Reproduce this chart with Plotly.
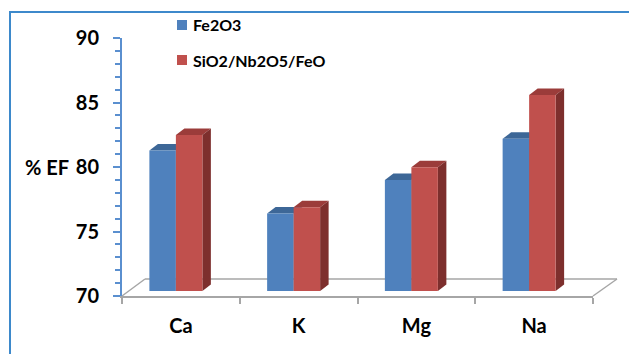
import plotly.graph_objects as go

# Efficiency (% EF) per element for the two sorbents
categories = ["Ca", "K", "Mg", "Na"]
fe2o3 = [80.9, 76.0, 78.6, 81.8]
composite = [82.1, 76.5, 79.6, 85.2]
series_names = ["Fe2O3", "SiO2/Nb2O5/FeO"]
y_ticks = [70, 75, 80, 85, 90]

FRONT = ["#4F81BD", "#C0504D"]
TOP = ["#3D6797", "#9B3C3A"]
SIDE = ["#36608F", "#7D2F2D"]

W_PX, H_PX = 629, 354
L, R, T, B = 122, 593, 38, 296
PW, PH = R - L, B - T
Y0, Y1 = 70, 90
UNIT_PX = PH / (Y1 - Y0)          # pixels per % unit
CAT_PX = PW / len(categories)     # pixels per category

# Depth of the pseudo-3D bars, expressed in axis units
DX = 8.5 / CAT_PX
DY = 6.5 / UNIT_PX
# bars sit slightly back from the front floor edge
SHIFT_Y = 5 / UNIT_PX
SHIFT_X = 5 / CAT_PX
BW = 0.225


def px_x(p):
    return (p - L) / PW


def px_y(p):
    return (B - p) / PH


fig = go.Figure()

# invisible carrier so the front (visible) axes get drawn
fig.add_trace(go.Scatter(x=categories, y=fe2o3, mode="markers",
                         marker=dict(opacity=0), hoverinfo="skip", showlegend=False))

idx = list(range(len(categories)))
shapes = []
for s, (vals, name) in enumerate(zip([fe2o3, composite], series_names)):
    off = -BW if s == 0 else 0.0
    fig.add_trace(go.Bar(
        x=idx, y=[v - Y0 for v in vals], base=Y0, name=name,
        width=BW, offset=off, marker=dict(color=FRONT[s], line=dict(width=0)),
        xaxis="x2", yaxis="y2", showlegend=False,
        customdata=vals, hovertemplate="%{customdata}<extra>" + name + "</extra>",
    ))
    for i, v in enumerate(vals):
        x0 = i + off
        x1 = x0 + BW
        # top face
        shapes.append(dict(
            type="path", xref="x2", yref="y2", layer="below",
            path=f"M{x0},{v} L{x1},{v} L{x1 + DX},{v + DY} L{x0 + DX},{v + DY} Z",
            fillcolor=TOP[s], line=dict(width=0),
        ))
        # right side face
        shapes.append(dict(
            type="path", xref="x2", yref="y2", layer="below",
            path=f"M{x1},{Y0} L{x1},{v} L{x1 + DX},{v + DY} L{x1 + DX},{Y0 + DY} Z",
            fillcolor=SIDE[s], line=dict(width=0),
        ))

# Floor of the 3D plot
floor_col = "#A6A6A6"
for (xa, ya, xb, yb) in [(L, B, 145, 279), (145, 279, 617, 279), (R, B, 617, 279)]:
    shapes.append(dict(type="line", xref="paper", yref="paper", layer="below",
                       x0=px_x(xa), y0=px_y(ya), x1=px_x(xb), y1=px_y(yb),
                       line=dict(color=floor_col, width=1.5)))

# Chart frame
frame_col = "#3D89CB"
shapes.append(dict(type="path", xref="paper", yref="paper",
                   path=f"M{px_x(10)},{px_y(360)} L{px_x(10)},{px_y(12)} L{px_x(640)},{px_y(12)}",
                   line=dict(color=frame_col, width=2)))

# Legend swatches and labels
annotations = []
for s, (name, yc) in enumerate(zip(series_names, [25, 60])):
    shapes.append(dict(type="rect", xref="paper", yref="paper",
                       x0=px_x(177), x1=px_x(187), y0=px_y(yc + 5), y1=px_y(yc - 5),
                       fillcolor=FRONT[s], line=dict(width=0)))
    annotations.append(dict(xref="paper", yref="paper", x=px_x(191), y=px_y(yc),
                            xanchor="left", yanchor="middle", showarrow=False,
                            text=name, font=dict(family="Lato", size=16, color="#000000", weight="bold")))

annotations.append(dict(xref="paper", yref="paper", x=px_x(47), y=px_y(167),
                        xanchor="center", yanchor="middle", showarrow=False,
                        text="% EF", font=dict(family="Lato", size=20, color="#000000", weight="bold")))

axis_blue = "#5A8FCF"
fig.update_layout(
    width=W_PX, height=H_PX,
    margin=dict(l=L, r=W_PX - R, t=T, b=H_PX - B),
    paper_bgcolor="white", plot_bgcolor="rgba(0,0,0,0)",
    bargap=0.55, bargroupgap=0,
    shapes=shapes, annotations=annotations,
    font=dict(family="Lato", color="#000000"),
    xaxis=dict(
        type="category", categoryorder="array", categoryarray=categories,
        tickmode="array", tickvals=categories, ticktext=categories,
        range=[-0.5, len(categories) - 0.5], tickson="boundaries",
        ticks="outside", ticklen=6, tickcolor=floor_col, tickwidth=1.5,
        showline=True, linecolor=floor_col, linewidth=1.5,
        showgrid=False, zeroline=False, fixedrange=True,
        ticklabelstandoff=11,
        tickfont=dict(family="Lato", size=20, color="#000000", weight="bold"),
    ),
    yaxis=dict(
        range=[Y0, Y1], tickmode="array", tickvals=y_ticks,
        ticks="outside", ticklen=7, tickwidth=2, tickcolor=axis_blue,
        minor=dict(dtick=1, ticks="outside", ticklen=5, tickwidth=2, tickcolor=axis_blue, showgrid=False),
        showline=True, linecolor=axis_blue, linewidth=2,
        showgrid=False, zeroline=False, fixedrange=True,
        ticklabelstandoff=10,
        tickfont=dict(family="Lato", size=20, color="#000000", weight="bold"),
    ),
    xaxis2=dict(overlaying="x", range=[-0.5 + SHIFT_X, len(categories) - 0.5 + SHIFT_X],
                visible=False, fixedrange=True),
    yaxis2=dict(overlaying="y", range=[Y0 - SHIFT_Y, Y1 - SHIFT_Y],
                visible=False, fixedrange=True),
)

fig.write_html("out.html")
